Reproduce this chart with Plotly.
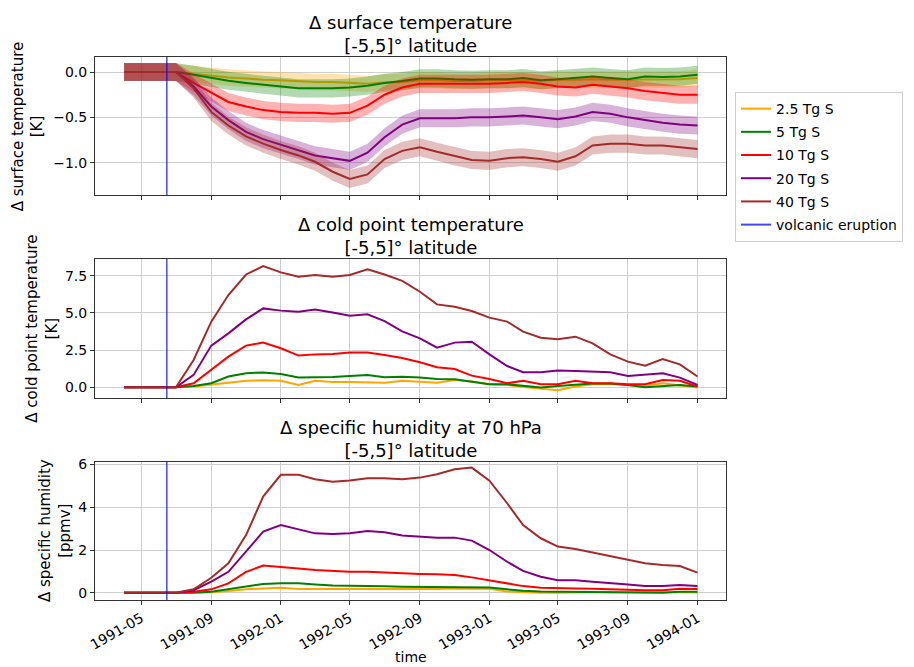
import pandas as pd
import plotly.graph_objects as go
from plotly.subplots import make_subplots

# Monthly means, April 1991 - January 1994
MONTHS = pd.date_range("1991-04-01", "1994-01-01", freq="MS")
ERUPTION_DATE = "1991-06-15"

SCENARIOS = ["2.5 Tg S", "5 Tg S", "10 Tg S", "20 Tg S", "40 Tg S"]

# Delta surface temperature [K], [-5,5] deg latitude
surf_2p5 = [0, 0, 0, 0, -0.02, -0.04, -0.06, -0.07, -0.085, -0.09, -0.10, -0.11, -0.11, -0.12, -0.13, -0.115,
            -0.11, -0.09, -0.09, -0.10, -0.10, -0.09, -0.09, -0.09, -0.10, -0.085, -0.085, -0.08, -0.085,
            -0.085, -0.085, -0.08, -0.08, -0.066]
surf_5 = [0, 0, 0, 0, -0.03, -0.066, -0.096, -0.12, -0.14, -0.16, -0.18, -0.18, -0.18, -0.17, -0.15, -0.12,
          -0.10, -0.07, -0.07, -0.08, -0.085, -0.08, -0.08, -0.066, -0.09, -0.08, -0.066, -0.05, -0.066,
          -0.08, -0.05, -0.055, -0.05, -0.03]
surf_10 = [0, 0, 0, 0, -0.12, -0.23, -0.33, -0.38, -0.42, -0.44, -0.45, -0.45, -0.46, -0.45, -0.37, -0.25,
           -0.17, -0.13, -0.13, -0.13, -0.13, -0.13, -0.12, -0.11, -0.13, -0.16, -0.17, -0.14, -0.16,
           -0.18, -0.21, -0.23, -0.25, -0.25]
surf_20 = [0, 0, 0, 0, -0.16, -0.38, -0.53, -0.66, -0.74, -0.80, -0.86, -0.92, -0.95, -0.98, -0.89, -0.72,
           -0.58, -0.51, -0.51, -0.51, -0.50, -0.50, -0.49, -0.48, -0.50, -0.52, -0.49, -0.44, -0.46,
           -0.50, -0.53, -0.56, -0.58, -0.59]
surf_40 = [0, 0, 0, 0, -0.18, -0.44, -0.59, -0.71, -0.79, -0.86, -0.92, -0.99, -1.10, -1.18, -1.13, -0.96,
           -0.87, -0.83, -0.88, -0.93, -0.97, -0.98, -0.95, -0.94, -0.96, -0.99, -0.93, -0.81, -0.79,
           -0.79, -0.81, -0.81, -0.83, -0.85]
# ensemble spread (half width of the shaded band) [K]
surf_spread = [0.09, 0.10, 0.10, 0.10, 0.10]

# Delta cold point temperature [K]
cpt_2p5 = [0, 0, 0, 0, 0.05, 0.20, 0.31, 0.43, 0.47, 0.43, 0.16, 0.43, 0.36, 0.36, 0.36, 0.31, 0.44, 0.38,
           0.31, 0.49, 0.38, 0.20, 0.16, 0.02, -0.07, -0.20, 0.05, 0.20, 0.20, 0.16, 0.11, 0.27, 0.11, -0.02]
cpt_5 = [0, 0, 0, 0, 0.09, 0.27, 0.72, 0.94, 1.00, 0.89, 0.65, 0.65, 0.69, 0.76, 0.83, 0.67, 0.70, 0.65,
         0.56, 0.54, 0.38, 0.20, 0.20, 0.09, -0.02, 0.09, 0.16, 0.25, 0.25, 0.16, 0.00, 0.09, 0.16, 0.05]
cpt_10 = [0, 0, 0, 0, 0.27, 1.16, 2.06, 2.80, 3.00, 2.62, 2.13, 2.21, 2.24, 2.33, 2.33, 2.17, 1.97, 1.68,
          1.34, 1.23, 0.78, 0.56, 0.27, 0.43, 0.20, 0.20, 0.43, 0.27, 0.27, 0.20, 0.20, 0.49, 0.43, 0.05]
cpt_20 = [0, 0, 0, 0, 0.83, 2.80, 3.62, 4.56, 5.30, 5.15, 5.08, 5.23, 5.03, 4.81, 4.90, 4.45, 3.75, 3.29,
          2.66, 3.00, 3.06, 2.21, 1.43, 1.01, 1.01, 1.12, 1.10, 1.05, 1.01, 0.76, 0.83, 0.94, 0.65, 0.16]
cpt_40 = [0, 0, 0, 0, 1.83, 4.41, 6.20, 7.58, 8.14, 7.72, 7.43, 7.54, 7.43, 7.54, 7.92, 7.58, 7.15, 6.42,
          5.57, 5.41, 5.12, 4.68, 4.41, 3.74, 3.33, 3.22, 3.40, 2.95, 2.21, 1.72, 1.45, 1.90, 1.54, 0.72]

# Delta specific humidity at 70 hPa [ppmv]
q_2p5 = [0, 0, 0, 0, 0, 0.02, 0.08, 0.16, 0.20, 0.23, 0.17, 0.17, 0.16, 0.16, 0.16, 0.14, 0.15, 0.16,
         0.17, 0.20, 0.20, 0.19, 0.06, 0.03, 0.00, 0.00, 0.02, 0.02, 0.02, 0.01, 0.01, 0.02, 0.02, 0.01]
q_5 = [0, 0, 0, 0, 0, 0.05, 0.16, 0.28, 0.41, 0.44, 0.44, 0.39, 0.34, 0.33, 0.33, 0.30, 0.28, 0.28,
       0.28, 0.28, 0.28, 0.25, 0.16, 0.09, 0.06, 0.05, 0.06, 0.05, 0.05, 0.03, 0.00, 0.00, 0.05, 0.05]
q_10 = [0, 0, 0, 0, 0.05, 0.16, 0.44, 0.98, 1.27, 1.22, 1.14, 1.06, 1.02, 0.98, 0.98, 0.94, 0.91, 0.88,
        0.86, 0.83, 0.72, 0.59, 0.44, 0.31, 0.23, 0.20, 0.20, 0.19, 0.16, 0.12, 0.12, 0.12, 0.19, 0.17]
q_20 = [0, 0, 0, 0, 0.12, 0.52, 0.98, 1.92, 2.86, 3.17, 2.97, 2.78, 2.75, 2.78, 2.89, 2.83, 2.68, 2.63,
        2.58, 2.58, 2.44, 2.00, 1.45, 1.02, 0.75, 0.59, 0.59, 0.52, 0.47, 0.39, 0.31, 0.31, 0.36, 0.31]
q_40 = [0, 0, 0, 0, 0.16, 0.70, 1.38, 2.70, 4.50, 5.52, 5.52, 5.31, 5.20, 5.25, 5.36, 5.36, 5.31, 5.39,
        5.55, 5.78, 5.86, 5.25, 4.19, 3.17, 2.55, 2.16, 2.05, 1.88, 1.69, 1.53, 1.38, 1.30, 1.25, 0.94]

surface = [surf_2p5, surf_5, surf_10, surf_20, surf_40]
cold_point = [cpt_2p5, cpt_5, cpt_10, cpt_20, cpt_40]
humidity = [q_2p5, q_5, q_10, q_20, q_40]

# ---- styling ----
LINE_COLORS = ["rgb(255,165,0)", "rgb(0,128,0)", "rgb(255,0,0)", "rgb(128,0,128)", "rgb(165,42,42)"]
BAND_COLORS = ["rgba(255,165,0,0.3)", "rgba(0,128,0,0.3)", "rgba(255,0,0,0.3)",
               "rgba(128,0,128,0.3)", "rgba(165,42,42,0.3)"]
ERUPTION_COLOR = "rgba(0,0,255,0.72)"
FONT = "DejaVu Sans"
GRID = "#cfcfcf"
AXIS_LINE = "#333333"

fig = make_subplots(rows=3, cols=1, shared_xaxes=True)
x = list(MONTHS)

# top panel: ensemble mean with shaded spread
for name, vals, sp, lc, bc in zip(SCENARIOS, surface, surf_spread, LINE_COLORS, BAND_COLORS):
    upper = [v + sp for v in vals]
    lower = [v - sp for v in vals]
    fig.add_trace(go.Scatter(x=x + x[::-1], y=upper + lower[::-1], fill="toself", fillcolor=bc,
                             line=dict(width=0), mode="lines", hoverinfo="skip",
                             showlegend=False, legendgroup=name), row=1, col=1)
    fig.add_trace(go.Scatter(x=x, y=vals, mode="lines", name=name, legendgroup=name,
                             line=dict(color=lc, width=2)), row=1, col=1)

for row, data in ((2, cold_point), (3, humidity)):
    for name, vals, lc in zip(SCENARIOS, data, LINE_COLORS):
        fig.add_trace(go.Scatter(x=x, y=vals, mode="lines", name=name, legendgroup=name,
                                 showlegend=False, line=dict(color=lc, width=2)), row=row, col=1)

# legend entry for the eruption marker
fig.add_trace(go.Scatter(x=[None], y=[None], mode="lines", name="volcanic eruption",
                         legendgroup="eruption", line=dict(color=ERUPTION_COLOR, width=2)),
              row=1, col=1)

for row in (1, 2, 3):
    yref = "y" if row == 1 else f"y{row}"
    xref = "x" if row == 1 else f"x{row}"
    fig.add_shape(type="line", xref=xref, yref=f"{yref} domain", x0=ERUPTION_DATE, x1=ERUPTION_DATE,
                  y0=0, y1=1, line=dict(color=ERUPTION_COLOR, width=1.5), layer="above")

# panel layout
domains = [[0.7453, 1.0], [0.3715, 0.628], [0.0, 0.2541]]
yranges = [[-1.36, 0.166], [-0.74, 8.62], [-0.34, 6.12]]
ydticks = [0.5, 2.5, 2]
yformats = [".1f", ".1f", "d"]
titles = ["Δ surface temperature<br>[-5,5]° latitude",
          "Δ cold point temperature<br>[-5,5]° latitude",
          "Δ specific humidity at 70 hPa<br>[-5,5]° latitude"]
ylabels = ["Δ surface temperature<br>[K]",
           "Δ cold point temperature<br>[K]",
           "Δ specific humidity<br>[ppmv]"]
ylabel_x = [28, 42, 55]  # pixel centre of the rotated label block

axis_common = dict(showgrid=True, gridcolor=GRID, gridwidth=1, zeroline=False, showline=True,
                   mirror=True, linecolor=AXIS_LINE, linewidth=1, ticks="outside", ticklen=4,
                   tickcolor=AXIS_LINE, tickfont=dict(family=FONT, size=14, color="black"))

PLOT_L, PLOT_R = 95, 914 - 187
for i in range(3):
    n = "" if i == 0 else str(i + 1)
    fig.layout["yaxis" + n].update(domain=domains[i], range=yranges[i], dtick=ydticks[i],
                                   tickformat=yformats[i], **axis_common)
    fig.layout["xaxis" + n].update(range=["1991-02-09", "1994-02-20"], dtick="M4", tick0="1991-01-01",
                                   tickformat="%Y-%m", tickangle=-30, **axis_common)
    fig.add_annotation(text=titles[i], xref="paper", yref="paper", x=0.5, y=domains[i][1],
                       xanchor="center", yanchor="bottom", yshift=-1, showarrow=False,
                       font=dict(family=FONT, size=18, color="black"))
    fig.add_annotation(text=ylabels[i], xref="paper", yref="paper",
                       x=(ylabel_x[i] - PLOT_L) / (PLOT_R - PLOT_L), y=sum(domains[i]) / 2,
                       xanchor="center", yanchor="middle", textangle=-90, showarrow=False,
                       font=dict(family=FONT, size=15, color="black"))

fig.add_annotation(text="time", xref="paper", yref="paper", x=0.5, y=-0.105, xanchor="center",
                   yanchor="middle", showarrow=False, font=dict(family=FONT, size=14, color="black"))

fig.update_layout(
    width=914, height=667,
    margin=dict(l=PLOT_L, r=187, t=57, b=67),
    paper_bgcolor="white", plot_bgcolor="white",
    font=dict(family=FONT, size=14, color="black"),
    showlegend=True,
    legend=dict(x=1.0127, y=0.9355, xanchor="left", yanchor="top", bgcolor="white",
                bordercolor="#d0d0d0", borderwidth=1, tracegroupgap=2,
                font=dict(family=FONT, size=14, color="black")),
)

fig.write_html("out.html")
